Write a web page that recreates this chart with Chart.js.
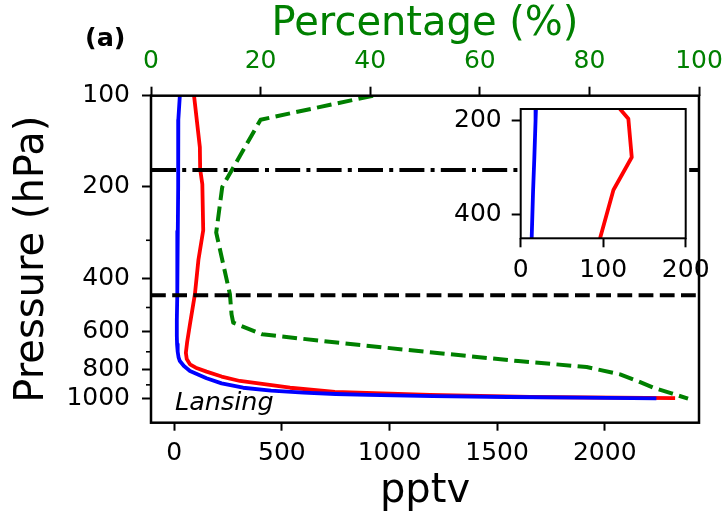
<!DOCTYPE html>
<html>
<head>
<meta charset="utf-8">
<script src="https://cdn.jsdelivr.net/npm/chart.js@4/dist/chart.umd.min.js"></script>
<style>
  html, body { margin: 0; padding: 0; background: #ffffff; }
  #wrap { position: relative; width: 727px; height: 519px; }
  canvas { position: absolute; left: 0; top: 0; }
  #inset { pointer-events: none; }
</style>
</head>
<body>
<div id="wrap">
  <canvas id="main" width="727" height="519"></canvas>
  <canvas id="inset" width="727" height="519"></canvas>
</div>
<script>
// ---------------- data ----------------
const bluePressure = [100, 120, 175, 200, 280, 350, 451, 550, 620, 660, 700, 730, 751, 780, 810, 856, 890, 920, 940, 955, 965, 972, 980, 987, 992, 997];
const bluePptv     = [26, 19, 18.5, 18, 16.5, 15, 13.3, 12, 12, 13, 16, 20, 26, 45, 73, 150, 220, 320, 450, 600, 750, 900, 1200, 1550, 1900, 2240];

const redPressure = [100, 148, 175, 196, 278, 348, 451, 568, 650, 705, 740, 770, 790, 814, 845, 874, 920, 949, 972, 987, 995];
const redPptv     = [92, 119, 120.4, 130.5, 134.6, 112.4, 96.2, 73, 60, 54, 58, 73, 100, 150, 220, 305, 538, 746, 1188, 1653, 2327];

const greenPressure = [100, 120, 200, 283, 452, 527, 561, 613, 650, 700, 751, 786, 831, 870, 920, 960, 1000];
const greenPercent  = [40.5, 20, 13, 11.9, 14.4, 14.7, 15, 20.3, 33, 50, 67, 79.5, 85.6, 88.5, 91.7, 95, 98];

const tropopauseLevel = 176;   // dash-dot line (hPa)
const lowerLevel = 456;        // dashed line (hPa)

const pptvTicks = [0, 500, 1000, 1500, 2000];
const percentTicks = [0, 20, 40, 60, 80, 100];
const pressureMajorTicks = [100, 200, 400, 600, 800, 1000];
const pressureMinorTicks = [300, 500, 700, 900];
const insetPptvTicks = [0, 100, 200];
const insetPressureTicks = [200, 400];

const stationLabel = 'Lansing';
const panelLabel = '(a)';

// ---------------- helpers ----------------
const FAMILY = '"DejaVu Sans", "Liberation Sans", sans-serif';
Chart.defaults.font.family = FAMILY;
const zip = (xs, ys) => xs.map((x, i) => ({x: x, y: ys[i]}));
const TICK_FONT = {family: FAMILY, size: 25};
const TITLE_FONT = {family: FAMILY, size: 40};
const noSidePad = s => { s.paddingLeft = 0; s.paddingRight = 0; };

// ---------------- main chart ----------------
const mainDeco = {
  id: 'mainDeco',
  afterDatasetsDraw(chart) {
    const ctx = chart.ctx, a = chart.chartArea, ys = chart.scales.y;
    ctx.save();
    ctx.strokeStyle = '#000';
    ctx.lineCap = 'butt';
    ctx.lineWidth = 4;
    ctx.setLineDash([25, 6.2, 4, 6.2]);
    let yp = ys.getPixelForValue(tropopauseLevel);
    ctx.beginPath(); ctx.moveTo(a.left, yp); ctx.lineTo(a.right, yp); ctx.stroke();
    ctx.setLineDash([14.8, 6.4]);
    yp = ys.getPixelForValue(lowerLevel);
    ctx.beginPath(); ctx.moveTo(a.left, yp); ctx.lineTo(a.right, yp); ctx.stroke();
    ctx.setLineDash([]);
    ctx.lineWidth = 1.6;
    pressureMinorTicks.forEach(v => {
      const p = ys.getPixelForValue(v);
      ctx.beginPath(); ctx.moveTo(a.left - 5, p); ctx.lineTo(a.left, p); ctx.stroke();
    });
    ctx.lineWidth = 2.5;
    ctx.strokeRect(a.left, a.top, a.right - a.left, a.bottom - a.top);
    ctx.fillStyle = '#000';
    ctx.textBaseline = 'alphabetic';
    ctx.textAlign = 'left';
    ctx.font = 'italic 25.5px ' + FAMILY;
    ctx.fillText(stationLabel, 175, 410);
    ctx.font = 'bold 25.5px ' + FAMILY;
    ctx.fillText(panelLabel, 85, 46);
    ctx.restore();
  }
};

new Chart(document.getElementById('main'), {
  type: 'line',
  data: {
    datasets: [
      {data: zip(bluePptv, bluePressure), borderColor: '#0000ff', borderWidth: 3.8, xAxisID: 'x', yAxisID: 'y'},
      {data: zip(redPptv, redPressure), borderColor: '#ff0000', borderWidth: 3.8, xAxisID: 'x', yAxisID: 'y'},
      {data: zip(greenPercent, greenPressure), borderColor: '#008000', borderWidth: 4, borderDash: [14.8, 6.4], xAxisID: 'x2', yAxisID: 'y'}
    ]
  },
  options: {
    responsive: false,
    animation: false,
    devicePixelRatio: 1,
    layout: {padding: {left: 0, right: 28, top: 0, bottom: 0}},
    elements: {point: {radius: 0}, line: {tension: 0, borderCapStyle: 'butt', borderJoinStyle: 'round'}},
    plugins: {legend: {display: false}, tooltip: {enabled: false}},
    scales: {
      x: {
        type: 'linear', position: 'bottom', min: -108, max: 2438,
        afterBuildTicks: s => { s.ticks = pptvTicks.map(v => ({value: v})); },
        afterFit: s => { s.height = 96.3; noSidePad(s); },
        grid: {drawOnChartArea: false, drawTicks: true, tickLength: 8, tickWidth: 2, tickColor: '#000'},
        border: {display: false},
        ticks: {font: TICK_FONT, color: '#000', padding: 8, maxRotation: 0, autoSkip: false, callback: v => String(v)},
        title: {display: true, text: 'pptv', color: '#000', font: TITLE_FONT, padding: {top: 0, bottom: 3}}
      },
      x2: {
        type: 'linear', position: 'top', min: 0, max: 100,
        afterBuildTicks: s => { s.ticks = percentTicks.map(v => ({value: v})); },
        afterFit: s => { s.height = 95.7; noSidePad(s); },
        grid: {drawOnChartArea: false, drawTicks: true, tickLength: 9, tickWidth: 2, tickColor: '#000'},
        border: {display: false},
        ticks: {font: TICK_FONT, color: '#008000', padding: 10, maxRotation: 0, autoSkip: false, callback: v => String(v)},
        title: {display: true, text: 'Percentage (%)', color: '#008000', font: TITLE_FONT, padding: {top: 0.5, bottom: 0}}
      },
      y: {
        type: 'logarithmic', position: 'left', reverse: true, min: 100, max: 1200,
        afterBuildTicks: s => {
          s.ticks = pressureMajorTicks.concat(pressureMinorTicks).sort((p, q) => p - q).map(v => ({value: v, major: pressureMajorTicks.includes(v)}));
        },
        afterFit: s => { s.width = 151; },
        grid: {
          drawOnChartArea: false, drawTicks: true, tickLength: 9, tickWidth: 2,
          tickColor: c => (c.tick && pressureMajorTicks.includes(c.tick.value)) ? '#000' : 'rgba(0,0,0,0)'
        },
        border: {display: false},
        ticks: {
          font: TICK_FONT, color: '#000', padding: 12, autoSkip: false,
          callback: v => pressureMajorTicks.includes(v) ? String(v) : ''
        },
        title: {display: true, text: 'Pressure (hPa)', color: '#000', font: TITLE_FONT, padding: {top: 8.5, bottom: 0}}
      }
    }
  },
  plugins: [mainDeco]
});

// ---------------- inset chart ----------------
const insetDeco = {
  id: 'insetDeco',
  beforeDatasetsDraw(chart) {
    const ctx = chart.ctx, a = chart.chartArea;
    ctx.save();
    ctx.fillStyle = '#ffffff';
    ctx.fillRect(a.left, a.top, a.right - a.left, a.bottom - a.top);
    ctx.restore();
  },
  afterDatasetsDraw(chart) {
    const ctx = chart.ctx, a = chart.chartArea;
    ctx.save();
    ctx.strokeStyle = '#000';
    ctx.lineWidth = 2;
    ctx.strokeRect(a.left, a.top, a.right - a.left, a.bottom - a.top);
    ctx.restore();
  }
};

new Chart(document.getElementById('inset'), {
  type: 'line',
  data: {
    datasets: [
      {data: zip(bluePptv, bluePressure), borderColor: '#0000ff', borderWidth: 3.8, clip: 0},
      {data: zip(redPptv, redPressure), borderColor: '#ff0000', borderWidth: 3.8, clip: 0}
    ]
  },
  options: {
    responsive: false,
    animation: false,
    devicePixelRatio: 1,
    layout: {padding: {left: 0, right: 41.3, top: 109, bottom: 0}},
    elements: {point: {radius: 0}, line: {tension: 0, borderCapStyle: 'butt', borderJoinStyle: 'round'}},
    plugins: {legend: {display: false}, tooltip: {enabled: false}},
    scales: {
      x: {
        type: 'linear', position: 'bottom', min: 0, max: 200,
        afterBuildTicks: s => { s.ticks = insetPptvTicks.map(v => ({value: v})); },
        afterFit: s => { s.height = 280.7; noSidePad(s); },
        grid: {drawOnChartArea: false, drawTicks: true, tickLength: 9, tickWidth: 2, tickColor: '#000'},
        border: {display: false},
        ticks: {font: TICK_FONT, color: '#000', padding: 8, maxRotation: 0, autoSkip: false, callback: v => String(v)}
      },
      y: {
        type: 'linear', position: 'left', reverse: true, min: 175, max: 451,
        afterBuildTicks: s => { s.ticks = insetPressureTicks.map(v => ({value: v})); },
        afterFit: s => { s.width = 520.7; },
        grid: {drawOnChartArea: false, drawTicks: true, tickLength: 9, tickWidth: 2, tickColor: '#000'},
        border: {display: false},
        ticks: {font: TICK_FONT, color: '#000', padding: 10, autoSkip: false, callback: v => String(v)}
      }
    }
  },
  plugins: [insetDeco]
});
</script>
</body>
</html>
